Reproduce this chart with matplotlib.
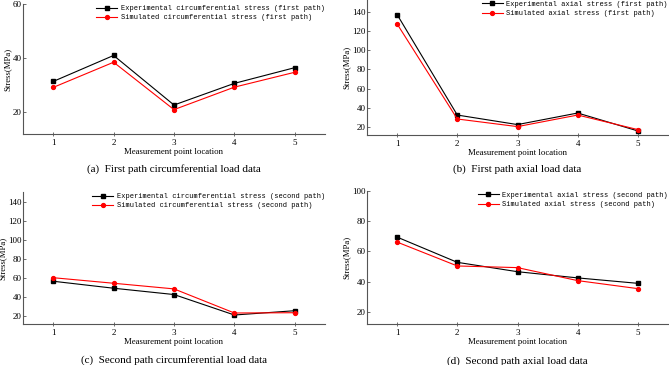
import numpy as np
import matplotlib
matplotlib.use("Agg")
import matplotlib.pyplot as plt

points = [1, 2, 3, 4, 5]

# (a) first path circumferential
exp_a = [31.4, 41.0, 22.7, 30.7, 36.5]
sim_a = [29.2, 38.5, 21.0, 29.3, 34.8]
# (b) first path axial
exp_b = [136.9, 32.7, 22.8, 34.8, 16.2]
sim_b = [127.2, 28.6, 20.7, 32.7, 17.6]
# (c) second path circumferential
exp_c = [56.7, 49.4, 42.8, 21.4, 25.9]
sim_c = [60.4, 54.6, 48.7, 23.5, 23.8]
# (d) second path axial
exp_d = [69.5, 52.8, 46.6, 42.5, 38.9]
sim_d = [66.2, 50.4, 49.3, 40.7, 35.4]

W, H = 669, 365
fig = plt.figure(figsize=(W / 100, H / 100), dpi=100)

serif = "Liberation Serif"
mono = "Liberation Mono"


def panel(box, exp, sim, ylim, yticks, lab_exp, lab_sim, caption, cap_y):
    l, t, r, b = box
    ax = fig.add_axes([l / W, 1 - b / H, (r - l) / W, (b - t) / H])
    ax.plot(points, exp, color="black", lw=0.8, marker="s", ms=2.8, label=lab_exp)
    ax.plot(points, sim, color="red", lw=0.8, marker="o", ms=2.8, label=lab_sim)
    ax.set_xlim(0.5, 5.5)
    ax.set_ylim(*ylim)
    ax.set_xticks(points)
    ax.set_yticks(yticks)
    for s in ["top", "right"]:
        ax.spines[s].set_visible(False)
    for s in ["left", "bottom"]:
        ax.spines[s].set_color("#555555")
        ax.spines[s].set_linewidth(0.8)
    ax.tick_params(axis="x", direction="inout", length=3, width=0.6, color="#555555", pad=2)
    ax.tick_params(axis="y", direction="in", length=2, width=0.6, color="#555555", pad=1)
    for lbl in ax.get_xticklabels() + ax.get_yticklabels():
        lbl.set_fontfamily(serif)
        lbl.set_fontsize(6.5)
    ax.set_xlabel("Measurement point location", family=serif, fontsize=6.3, labelpad=1)
    ax.set_ylabel("Stress(MPa)", family=serif, fontsize=6.3, labelpad=1)
    ax.legend(loc="upper right", bbox_to_anchor=(1.02, 1.04), frameon=False,
              prop={"family": mono, "size": 5}, handlelength=3.0, handletextpad=0.5,
              labelspacing=0.35)
    fig.text((l + r) / 2 / W, 1 - cap_y / H, caption, family=serif, fontsize=8,
             ha="center", va="center")
    return ax


panel((23, 4, 325, 134), exp_a, sim_a, (12, 60), [20, 40, 60],
      "Experimental circumferential stress (first path)",
      "Simulated circumferential stress (first path)",
      "(a)  First path circumferential load data", 169)
panel((367, 0, 668, 135), exp_b, sim_b, (12, 152), [20, 40, 60, 80, 100, 120, 140],
      "Experimental axial stress (first path)",
      "Simulated axial stress (first path)",
      "(b)  First path axial load data", 169)
panel((23, 192, 325, 324), exp_c, sim_c, (12, 150), [20, 40, 60, 80, 100, 120, 140],
      "Experimental circumferential stress (second path)",
      "Simulated circumferential stress (second path)",
      "(c)  Second path circumferential load data", 360)
panel((367, 191, 668, 324), exp_d, sim_d, (12, 100), [20, 40, 60, 80, 100],
      "Experimental axial stress (second path)",
      "Simulated axial stress (second path)",
      "(d)  Second path axial load data", 361)

fig.savefig("out.png", dpi=100)
